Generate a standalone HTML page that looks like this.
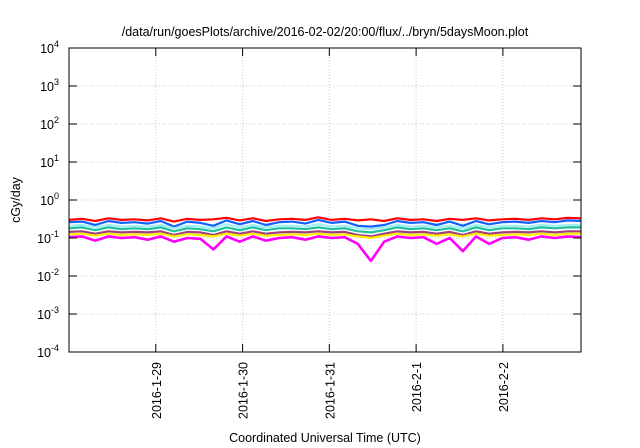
<!DOCTYPE html>
<html><head><meta charset="utf-8"><style>
html,body{margin:0;padding:0;background:#fff;}
svg{display:block;font-family:"Liberation Sans",sans-serif;}
</style></head><body>
<svg id="chart" width="640" height="448">
<text x="325" y="36" text-anchor="middle" font-size="12.5">/data/run/goesPlots/archive/2016-02-02/20:00/flux/../bryn/5daysMoon.plot</text>
<g id="grid"></g>
<g id="series"></g>
<rect x="69" y="48" width="512" height="304" fill="none" stroke="#000" stroke-width="1"/>
<g id="axes"></g>
<text x="20" y="200" text-anchor="middle" font-size="12.5" transform="rotate(-90 20 200)">cGy/day</text>
<text x="325" y="442" text-anchor="middle" font-size="12.5">Coordinated Universal Time (UTC)</text>
</svg>
<script>
const yExps=[-4,-3,-2,-1,0,1,2,3,4];
const xTickLabels=["2016-1-29","2016-1-30","2016-1-31","2016-2-1","2016-2-2"];
const xTickDays=[1,2,3,4,5];
const seriesNames=["red","blue","cyan","teal","purple","yellow","magenta"];
const seriesColors=["#ff0000","#1060ff","#a0f0f0","#20c0a0","#a04080","#ffee00","#ff00ff"];
const red=[0.30,0.32,0.28,0.33,0.30,0.31,0.29,0.33,0.27,0.32,0.30,0.31,0.34,0.29,0.33,0.28,0.31,0.32,0.30,0.35,0.30,0.32,0.29,0.31,0.28,0.33,0.30,0.31,0.28,0.32,0.30,0.33,0.29,0.31,0.32,0.30,0.33,0.31,0.34,0.33];
const blue=[0.26,0.27,0.22,0.28,0.25,0.26,0.24,0.28,0.20,0.27,0.25,0.21,0.29,0.23,0.28,0.22,0.26,0.27,0.24,0.30,0.25,0.27,0.21,0.20,0.22,0.28,0.25,0.26,0.22,0.27,0.21,0.28,0.23,0.26,0.27,0.25,0.28,0.26,0.29,0.28];
const cyan=[0.21,0.22,0.19,0.22,0.20,0.21,0.20,0.22,0.18,0.21,0.20,0.18,0.23,0.19,0.22,0.19,0.21,0.21,0.20,0.23,0.20,0.21,0.18,0.17,0.19,0.22,0.20,0.21,0.19,0.21,0.18,0.22,0.19,0.21,0.21,0.20,0.22,0.21,0.22,0.22];
const teal=[0.18,0.19,0.16,0.19,0.17,0.18,0.17,0.19,0.15,0.18,0.17,0.15,0.19,0.16,0.19,0.16,0.18,0.18,0.17,0.19,0.17,0.18,0.15,0.14,0.16,0.19,0.17,0.18,0.16,0.18,0.15,0.19,0.16,0.18,0.18,0.17,0.19,0.18,0.19,0.19];
const purple=[0.145,0.15,0.13,0.15,0.14,0.145,0.14,0.15,0.12,0.145,0.14,0.12,0.15,0.13,0.15,0.13,0.14,0.145,0.14,0.15,0.14,0.145,0.12,0.11,0.13,0.15,0.14,0.145,0.13,0.145,0.12,0.15,0.13,0.14,0.145,0.14,0.15,0.14,0.15,0.15];
const yellow=[0.125,0.13,0.115,0.13,0.12,0.125,0.12,0.13,0.11,0.125,0.12,0.11,0.13,0.115,0.13,0.115,0.12,0.125,0.12,0.13,0.12,0.125,0.11,0.10,0.115,0.13,0.12,0.125,0.115,0.125,0.11,0.13,0.115,0.12,0.125,0.12,0.13,0.12,0.13,0.13];
const magenta=[0.105,0.11,0.085,0.11,0.10,0.105,0.09,0.11,0.08,0.10,0.095,0.05,0.11,0.08,0.11,0.085,0.10,0.105,0.09,0.11,0.10,0.105,0.07,0.025,0.08,0.11,0.10,0.105,0.07,0.10,0.045,0.11,0.07,0.10,0.105,0.09,0.11,0.10,0.11,0.105];
const seriesData=[red,blue,cyan,teal,purple,yellow,magenta];
const NS="http://www.w3.org/2000/svg";
const L=69,R=581,T=48,B=352,DAYS=5.9;
function yPos(v){return B-(Math.log10(v)+4)/8*(B-T);}
function yExpPos(e){return B-(e+4)/8*(B-T);}
function xPos(d){return L+d/DAYS*(R-L);}
function mk(tag,attrs,parent){const e=document.createElementNS(NS,tag);for(const k in attrs)e.setAttribute(k,attrs[k]);parent.appendChild(e);return e;}
const grid=document.getElementById('grid'),axes=document.getElementById('axes'),ser=document.getElementById('series');
yExps.forEach(e=>{
  const y=yExpPos(e);
  if(e>-4&&e<4){const g=mk('line',{x1:L,x2:R,y1:y,y2:y,stroke:'#c8c8c8','stroke-dasharray':'1,2'},grid);
  
  }
  const t1=mk('line',{x1:L,x2:L+8,y1:y,y2:y,stroke:'#000'},axes);
  
  
  const t2=mk('line',{x1:R-8,x2:R,y1:y,y2:y,stroke:'#000'},axes);
  
  
  const tx=mk('text',{x:L-10,y:y+5,'text-anchor':'end','font-size':'12.5'},axes);
  
  
  tx.appendChild(document.createTextNode('10'));
  const sp=mk('tspan',{dy:-6,'font-size':'9'},tx);sp.textContent=String(e);
});
xTickDays.forEach((d,i)=>{
  const x=xPos(d);
  const g=mk('line',{x1:x,x2:x,y1:T,y2:B,stroke:'#c8c8c8','stroke-dasharray':'1,2'},grid);
  
  
  const t1=mk('line',{x1:x,x2:x,y1:B-8,y2:B,stroke:'#000'},axes);
  
  
  const t2=mk('line',{x1:x,x2:x,y1:T,y2:T+8,stroke:'#000'},axes);
  
  
  const tx=mk('text',{x:x+5,y:362,'text-anchor':'end','font-size':'12.5',transform:`rotate(-90 ${x+5} 362)`},axes);
  
  
  tx.textContent=xTickLabels[i];
});
seriesData.forEach((arr,si)=>{
  const n=arr.length;
  const pts=arr.map((v,i)=>xPos(i*DAYS/(n-1)).toFixed(1)+','+yPos(v).toFixed(1)).join(' ');
  const p=mk('polyline',{points:pts,fill:'none',stroke:seriesColors[si],'stroke-width':si===6?2.6:2.2,'stroke-linejoin':'round'},ser);
  
  
});
</script>
</body></html>
